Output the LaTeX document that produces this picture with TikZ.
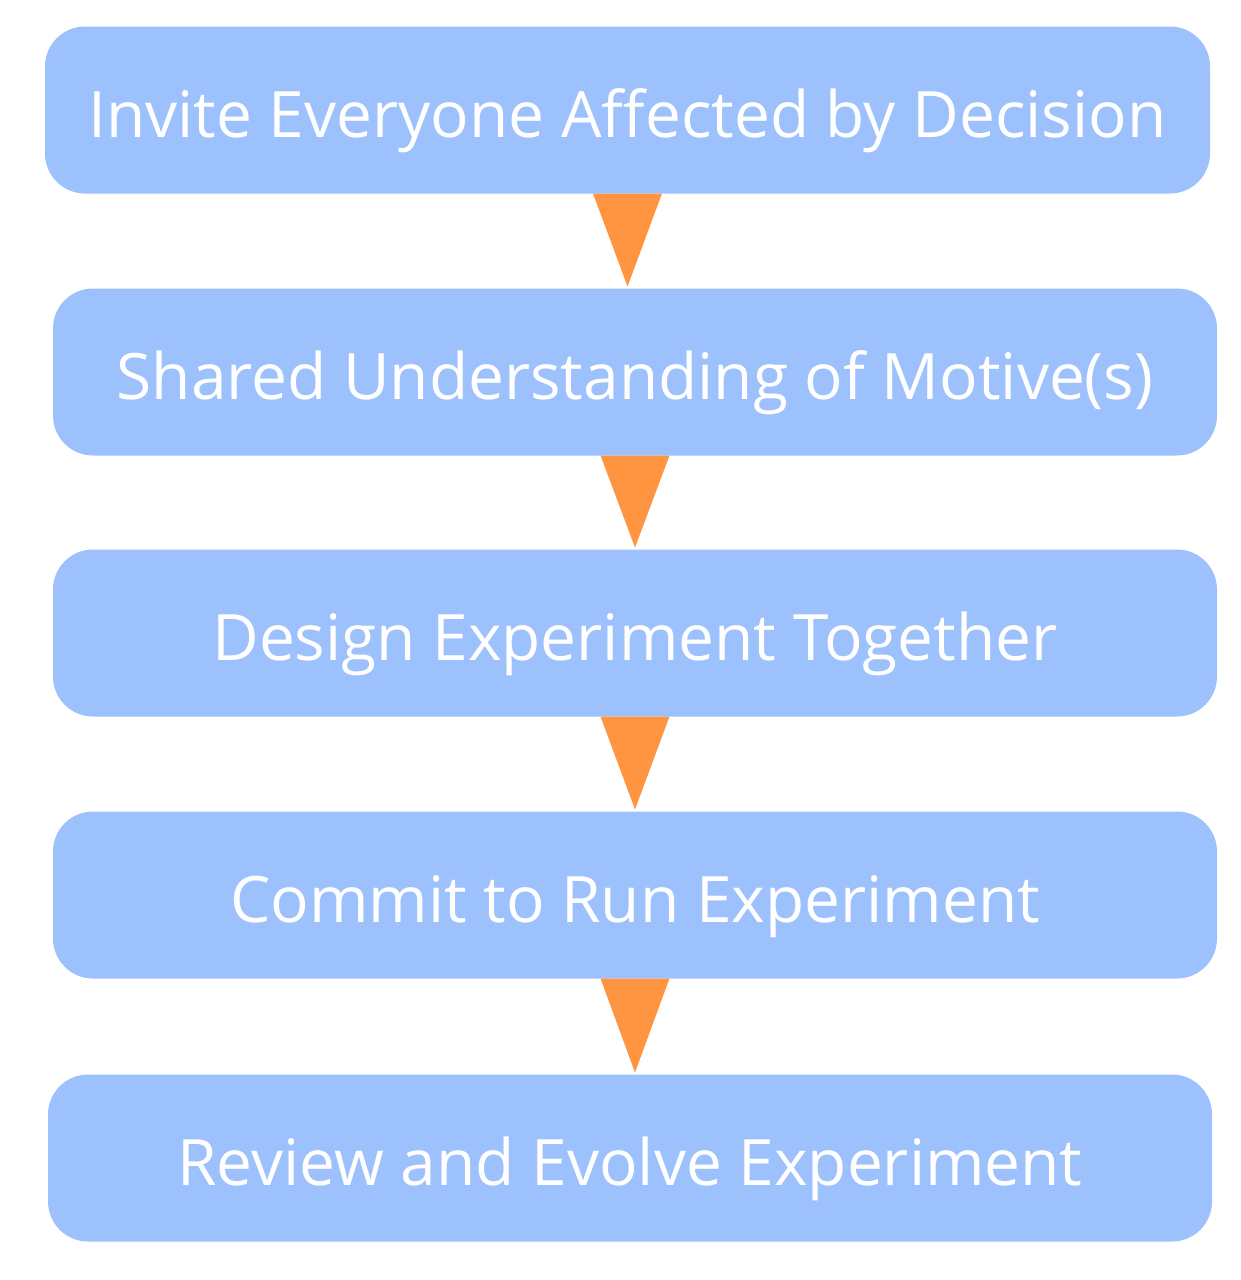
\documentclass[tikz,border=0pt]{standalone}
\usepackage{fontspec}
\setmainfont{Open Sans}
\usetikzlibrary{calc}
\definecolor{stepblue}{HTML}{9CC1FD}
\definecolor{flowor}{HTML}{FF9441}
\begin{document}
\begin{tikzpicture}[x=1pt,y=-1pt,
  stepbox/.style={fill=stepblue, draw=none, rounded corners=40pt,
    minimum width=1164pt, minimum height=167pt, inner sep=0pt, outer sep=0pt,
    text height=54pt, text depth=0pt,
    text=white, font=\fontsize{64}{76}\selectfont},
  flowtri/.style={fill=flowor, draw=none}]
\useasboundingbox (0,0) rectangle (1240,1280);

\node[stepbox, minimum width=1165pt] (b1) at (627.5,110) {Invite Everyone Affected by Decision};
\node[stepbox] (b2) at (635,372) {Shared Understanding of Motive(s)};
\node[stepbox] (b3) at (635,633) {Design Experiment Together};
\node[stepbox] (b4) at (635,895) {Commit to Run Experiment};
\node[stepbox] (b5) at (630,1158) {Review and Evolve Experiment};

% orange wedges between consecutive steps
\foreach \u/\l in {b1/b2, b2/b3, b3/b4, b4/b5}{
  \fill[flowtri] ($(\u.south)+(-34.5,0)$) -- ($(\u.south)+(34.5,0)$)
    -- ($(\u.south |- \l.north)+(0,-2)$) -- cycle;
}
\end{tikzpicture}
\end{document}
